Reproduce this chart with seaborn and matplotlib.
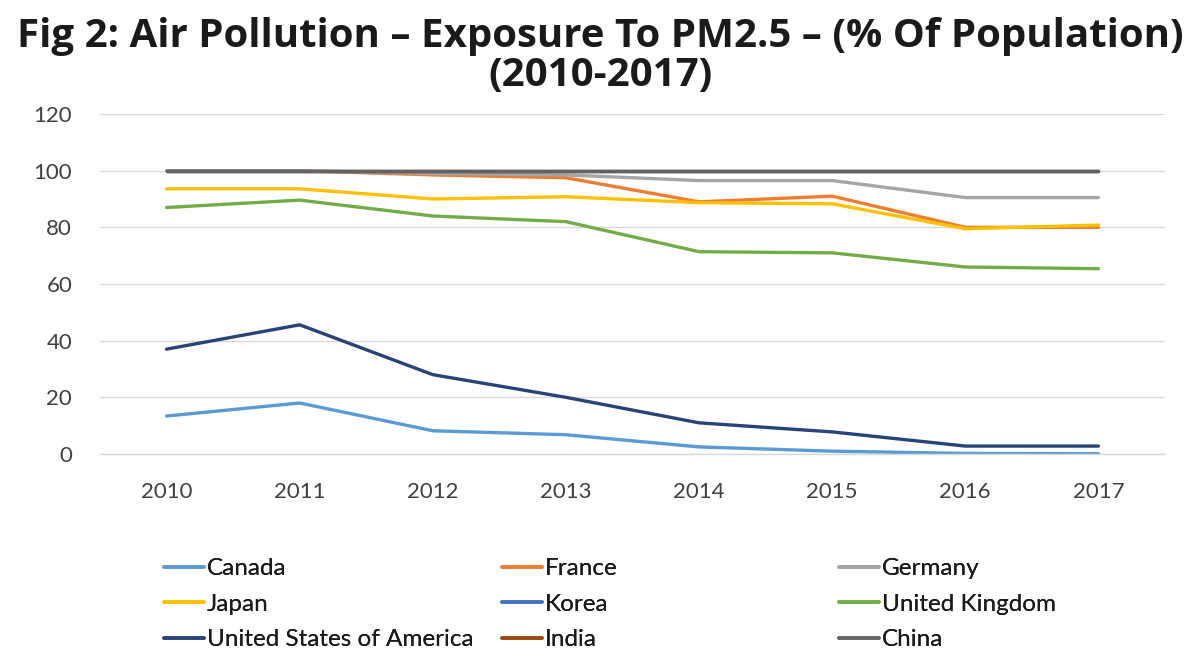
import matplotlib
matplotlib.use("Agg")
import matplotlib.pyplot as plt
import seaborn as sns
import pandas as pd
from matplotlib.lines import Line2D

years = ["2010", "2011", "2012", "2013", "2014", "2015", "2016", "2017"]
canada = [13.4, 18.0, 8.2, 6.8, 2.5, 1.0, 0.2, 0.1]
france = [100, 100, 98.5, 97.5, 89.0, 91.0, 80.0, 80.0]
germany = [100, 100, 99.0, 98.5, 96.5, 96.5, 90.5, 90.5]
japan = [93.6, 93.6, 90.0, 90.8, 88.7, 88.3, 79.5, 80.8]
korea = [100, 100, 100, 100, 100, 100, 100, 100]
uk = [87.0, 89.6, 84.0, 82.0, 71.4, 71.0, 66.0, 65.4]
usa = [37.0, 45.6, 28.0, 20.0, 11.0, 7.8, 2.8, 2.8]
india = [100, 100, 100, 100, 100, 100, 100, 100]
china = [100, 100, 100, 100, 100, 100, 100, 100]

countries = ["Canada", "France", "Germany", "Japan", "Korea", "United Kingdom",
             "United States of America", "India", "China"]
series = [canada, france, germany, japan, korea, uk, usa, india, china]
colors = ["#5B9BD5", "#ED7D31", "#A5A5A5", "#FFC000", "#4472C4", "#70AD47",
          "#264478", "#9E480E", "#636363"]

rows = []
for c, vals in zip(countries, series):
    for i, (y, v) in enumerate(zip(years, vals)):
        rows.append({"Country": c, "Year": y, "idx": i, "Value": v})
df = pd.DataFrame(rows)

sns.set_theme(style="white")
plt.rcParams['font.family'] = ['Lato', 'DejaVu Sans']

fig = plt.figure(figsize=(12, 6.5), dpi=100)
ax = fig.add_axes([100/1200, 1 - 454/650, 1065/1200, 340/650])

sns.lineplot(data=df, x="idx", y="Value", hue="Country", hue_order=countries,
             palette=colors, linewidth=2.4, ax=ax, legend=False, sort=False)

ax.set_xlim(-0.5, 7.5)
ax.set_ylim(0, 120)
ax.set_yticks(range(0, 121, 20))
ax.set_xticks(range(len(years)))
ax.set_xticklabels(years)
ax.tick_params(axis="both", labelsize=16, colors="#404040", length=0)
ax.tick_params(axis="y", pad=20)
ax.tick_params(axis="x", pad=20)
ax.yaxis.grid(True, color="#D9D9D9", linewidth=1)
ax.set_axisbelow(True)
for s in ["top", "left", "right"]:
    ax.spines[s].set_visible(False)
ax.spines["bottom"].set_color("#D9D9D9")
ax.spines["bottom"].set_linewidth(1)
ax.set_xlabel("")
ax.set_ylabel("")

fig.text(0.5, 1 - 36/650, "Fig 2: Air Pollution \u2013 Exposure To PM2.5 \u2013 (% Of Population)",
         ha="center", va="center", fontsize=29, fontweight="bold", color="#1a1a1a",
         family=["Open Sans", "DejaVu Sans"])
fig.text(0.5, 1 - 76/650, "(2010-2017)", ha="center", va="center", fontsize=29,
         fontweight="bold", color="#1a1a1a", family=["Open Sans", "DejaVu Sans"])

# legend: three columns, row-major order
col_x = [164/1200, 502/1200, 839/1200]
for ci in range(3):
    idxs = [ci, ci + 3, ci + 6]
    hs = [Line2D([0], [0], color=colors[k], lw=2.6) for k in idxs]
    labs = [countries[k] for k in idxs]
    leg = fig.legend(hs, labs, loc="upper left", bbox_to_anchor=(col_x[ci], 1 - 558/650),
                     ncol=1, frameon=False, fontsize=17.5, handlelength=1.65,
                     handletextpad=0.1, labelspacing=0.6, borderpad=0, borderaxespad=0)
    for t in leg.get_texts():
        t.set_color("#1a1a1a")
    fig.add_artist(leg)

fig.savefig("out.png", dpi=100)
